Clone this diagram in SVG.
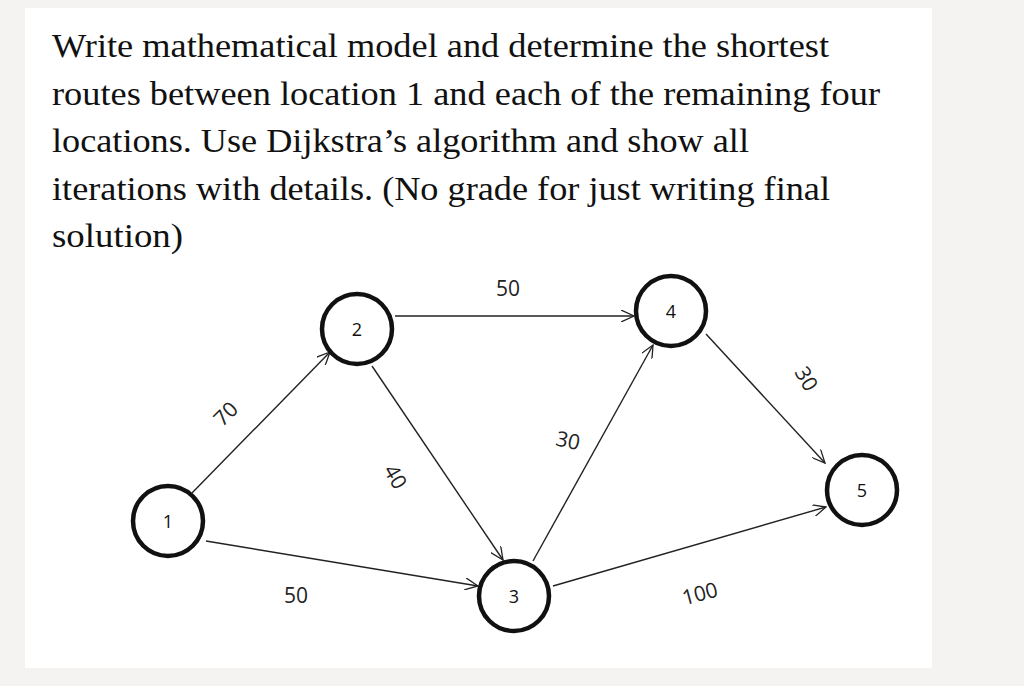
<svg xmlns="http://www.w3.org/2000/svg" width="1024" height="686" viewBox="0 0 1024 686">
<defs>
<style>
.t{font-family:"Liberation Serif",serif;font-size:33px;fill:#111}
.n circle{fill:#fff;stroke:#111;stroke-width:4.5}
.n text{font-family:"Open Sans",sans-serif;font-size:18px;fill:#111;text-anchor:middle}
.e line{stroke:#222;stroke-width:1.4;marker-end:url(#a)}
.l{font-family:"Open Sans",sans-serif;font-size:21px;fill:#222;text-anchor:middle}
</style>
<marker id="a" viewBox="0 0 14 12" refX="13" refY="6" markerWidth="14" markerHeight="12" markerUnits="userSpaceOnUse" orient="auto"><path d="M0,0L13,6L0,12" fill="none" stroke="#222" stroke-width="1.3"/></marker>
</defs>
<rect width="1024" height="686" fill="#f4f3f1"/>
<rect x="25" y="8" width="907" height="660" fill="#fff"/>
<text class="t" x="52" y="57" textLength="777" lengthAdjust="spacingAndGlyphs">Write mathematical model and determine the shortest</text>
<text class="t" x="52" y="105" textLength="828" lengthAdjust="spacingAndGlyphs">routes between location 1 and each of the remaining four</text>
<text class="t" x="52" y="152" textLength="697" lengthAdjust="spacingAndGlyphs">locations. Use Dijkstra’s algorithm and show all</text>
<text class="t" x="52" y="200" textLength="778" lengthAdjust="spacingAndGlyphs">iterations with details. (No grade for just writing final</text>
<text class="t" x="52" y="247" textLength="131" lengthAdjust="spacingAndGlyphs">solution)</text>
<g id="edges" class="e">
<line x1="192" y1="493" x2="330" y2="352"/>
<line x1="395" y1="316" x2="634" y2="316"/>
<line x1="372" y1="366" x2="503" y2="560"/>
<line x1="533" y1="561" x2="653" y2="345"/>
<line x1="706" y1="334" x2="825" y2="463"/>
<line x1="206" y1="541" x2="478" y2="586"/>
<line x1="553" y1="586" x2="826" y2="507"/>
</g>
<g id="labels">
<text class="l" x="508" y="296">50</text>
<text class="l" transform="translate(226,414) rotate(-45)" y="7">70</text>
<text class="l" transform="translate(395,477) rotate(60)" y="7">40</text>
<text class="l" transform="translate(568,441) rotate(12)" y="7">30</text>
<text class="l" transform="translate(806,379) rotate(60)" y="7">30</text>
<text class="l" x="296" y="603">50</text>
<text class="l" transform="translate(700,594) rotate(-15)" y="7">100</text>
</g>
<g id="n1" class="n"><circle cx="168" cy="521" r="35"/><text x="168" y="528">1</text></g>
<g id="n2" class="n"><circle cx="357" cy="329" r="35"/><text x="357" y="336">2</text></g>
<g id="n3" class="n"><circle cx="514" cy="596" r="35"/><text x="514" y="603">3</text></g>
<g id="n4" class="n"><circle cx="671" cy="311" r="35"/><text x="671" y="318">4</text></g>
<g id="n5" class="n"><circle cx="862" cy="490" r="35"/><text x="862" y="497">5</text></g>
</svg>
